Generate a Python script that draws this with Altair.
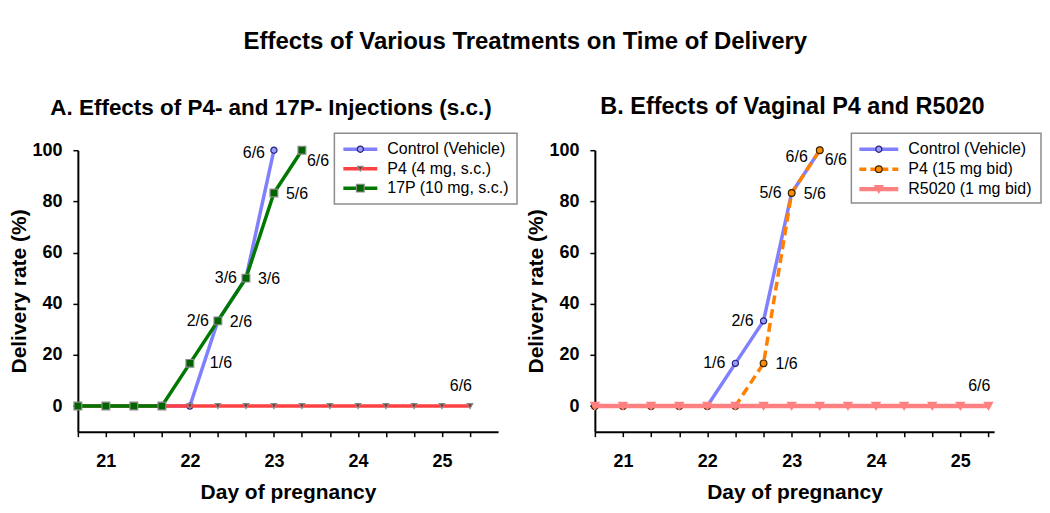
import altair as alt
import pandas as pd

FONT = "Liberation Sans"

# ---------------- data ----------------
days = [20.667, 21.0, 21.333, 21.667, 22.0, 22.333, 22.667, 23.0,
        23.333, 23.667, 24.0, 24.333, 24.667, 25.0, 25.333]

# Panel A: s.c. injections
a_control = [0, 0, 0, 0, 0, 33.3, 50.0, 100.0]
a_p4 = [0, 0, 0, 0, 0, 0, 0, 0, 0, 0, 0, 0, 0, 0, 0]
a_17p = [0, 0, 0, 0, 16.7, 33.3, 50.0, 83.3, 100.0]

# Panel B: vaginal treatments
b_control = [0, 0, 0, 0, 0, 16.7, 33.3, 83.3, 100.0]
b_p4 = [0, 0, 0, 0, 0, 0, 16.7, 83.3, 100.0]
b_r5020 = [0, 0, 0, 0, 0, 0, 0, 0, 0, 0, 0, 0, 0, 0, 0]

# point labels (day, rate, text)
a_labels_left = [(22.333, 33.3, "2/6"), (22.667, 50.0, "3/6")]
a_labels_left_top = [(23.0, 100.0, "6/6")]
a_labels_right = [(22.333, 33.3, "2/6"), (22.667, 50.0, "3/6"), (23.0, 83.3, "5/6")]
a_labels_right_far = [(22.0, 16.7, "1/6")]
a_labels_right_top = [(23.333, 100.0, "6/6")]
a_labels_above = [(25.333, 0, "6/6")]

b_labels_left = [(22.333, 16.7, "1/6"), (22.667, 33.3, "2/6"), (23.0, 83.3, "5/6")]
b_labels_left_top = [(23.333, 100.0, "6/6")]
b_labels_right = [(22.667, 16.7, "1/6"), (23.0, 83.3, "5/6")]
b_labels_right_top = [(23.333, 100.0, "6/6")]
b_labels_above = [(25.333, 0, "6/6")]

a_names = ["Control (Vehicle)", "P4 (4 mg, s.c.)", "17P (10 mg, s.c.)"]
b_names = ["Control (Vehicle)", "P4 (15 mg bid)", "R5020 (1 mg bid)"]

# ---------------- styles ----------------
ctrl_style = dict(color="#8080FF", width=3.5, shape="circle", fill="#9C9CFF", stroke="#20207A", size=38)
a_styles = [
    ctrl_style,
    dict(color="#FF4040", width=3.5, shape="triangle-down", fill="#8B2525", stroke="#8A8A8A", size=30),
    dict(color="#007800", width=3.5, shape="square", fill="#006400", stroke="#8A8A8A", size=60),
]
b_styles = [
    ctrl_style,
    dict(color="#FF8000", width=3.5, dash=[9, 5], shape="circle", fill="#FF8C00", stroke="#3A2400", size=45),
    dict(color="#FF8080", width=4.5, shape="triangle-down", fill="#FF8080", stroke="#FF8080", size=70),
]

PLOT_H = 282
Y_DOM = [-10, 100]


def x_enc(dom):
    return alt.X(
        "day:Q",
        scale=alt.Scale(domain=dom, nice=False, zero=False),
        axis=alt.Axis(
            values=days,
            labelExpr="abs(datum.value - round(datum.value)) < 0.01 ? format(round(datum.value), 'd') : ''",
            title="Day of pregnancy",
        ),
    )


def y_enc():
    return alt.Y(
        "rate:Q",
        scale=alt.Scale(domain=Y_DOM, nice=False, zero=False),
        axis=alt.Axis(values=[0, 20, 40, 60, 80, 100], title="Delivery rate (%)"),
    )


def series_layers(values, style, xdom):
    df = pd.DataFrame({"day": days[: len(values)], "rate": values})
    base = alt.Chart(df).encode(x=x_enc(xdom), y=y_enc())
    line_kw = dict(color=style["color"], strokeWidth=style["width"], strokeCap="butt")
    if "dash" in style:
        line_kw["strokeDash"] = style["dash"]
    line = base.mark_line(**line_kw)
    pts = base.mark_point(shape=style["shape"], filled=True, fill=style["fill"],
                          stroke=style["stroke"], strokeWidth=1.2, size=style["size"], opacity=1)
    return [line, pts]


def label_layer(items, xdom, align, dx, dy):
    df = pd.DataFrame(items, columns=["day", "rate", "txt"])
    return alt.Chart(df).mark_text(align=align, baseline="middle", dx=dx, dy=dy,
                                   font=FONT, fontSize=16, color="black").encode(
        x=x_enc(xdom), y=y_enc(), text="txt:N")


def legend_layers(names, styles, box, line_x, text_x, row0, row_step):
    one = pd.DataFrame({"k": [0]})
    out = [alt.Chart(one).mark_rect(fill="white", stroke="#8C8C8C", strokeWidth=1.5).encode(
        x=alt.value(box[0]), x2=alt.value(box[1]), y=alt.value(box[2]), y2=alt.value(box[3]))]
    for i, (nm, st) in enumerate(zip(names, styles)):
        yy = row0 + i * row_step
        kw = dict(color=st["color"], strokeWidth=st["width"])
        if "dash" in st:
            kw["strokeDash"] = [7, 4]
        out.append(alt.Chart(one).mark_rule(**kw).encode(
            x=alt.value(line_x[0]), x2=alt.value(line_x[1]), y=alt.value(yy)))
        out.append(alt.Chart(one).mark_point(shape=st["shape"], filled=True, fill=st["fill"],
                                             stroke=st["stroke"], strokeWidth=1.2,
                                             size=st["size"], opacity=1).encode(
            x=alt.value((line_x[0] + line_x[1]) / 2), y=alt.value(yy)))
        out.append(alt.Chart(one).mark_text(align="left", baseline="middle", font=FONT,
                                            fontSize=16, color="black", text=nm).encode(
            x=alt.value(text_x), y=alt.value(yy)))
    return out


# ---------------- panel A ----------------
xa = [20.667, 25.667]
layers_a = []
for vals, st in zip([a_control, a_p4, a_17p], a_styles):
    layers_a += series_layers(vals, st, xa)
layers_a += [
    label_layer(a_labels_left, xa, "right", -9, 0),
    label_layer(a_labels_left_top, xa, "right", -9, 3),
    label_layer(a_labels_right, xa, "left", 12, 1),
    label_layer(a_labels_right_far, xa, "left", 20, 0),
    label_layer(a_labels_right_top, xa, "left", 5, 11),
    label_layer(a_labels_above, xa, "right", 2, -20),
]
layers_a += legend_layers(a_names, a_styles, box=(257, 440, -17, 54), line_x=(266, 300),
                          text_x=310, row0=-1, row_step=19.5)
panel_a = alt.layer(*layers_a).properties(
    width=421, height=PLOT_H,
    title=alt.TitleParams("A. Effects of P4- and 17P- Injections (s.c.)", font=FONT, fontSize=22.5,
                          fontWeight="bold", color="black", anchor="middle", dx=-17,
                          baseline="bottom", offset=-10),
)

# ---------------- panel B ----------------
xb = [20.667, 25.4]
layers_b = []
for vals, st in zip([b_control, b_p4, b_r5020], b_styles):
    layers_b += series_layers(vals, st, xb)
layers_b += [
    label_layer(b_labels_left, xb, "right", -10, 0),
    label_layer(b_labels_left_top, xb, "right", -12, 7),
    label_layer(b_labels_right, xb, "left", 12, 1),
    label_layer(b_labels_right_top, xb, "left", 5, 10),
    label_layer(b_labels_above, xb, "right", 2, -20),
]
layers_b += legend_layers(b_names, b_styles, box=(257, 447, -17, 53), line_x=(265, 304),
                          text_x=314, row0=-1, row_step=20)
panel_b = alt.layer(*layers_b).properties(
    width=400, height=PLOT_H,
    title=alt.TitleParams("B. Effects of Vaginal P4 and R5020", font=FONT, fontSize=23.5,
                          fontWeight="bold", color="black", anchor="middle", dx=-2,
                          baseline="bottom", offset=-10),
)

chart = alt.hconcat(panel_a, panel_b, spacing=7).properties(
    title=alt.TitleParams("Effects of Various Treatments on Time of Delivery", font=FONT,
                          fontSize=24, fontWeight="bold", color="black", anchor="middle",
                          baseline="bottom", offset=17),
    padding={"left": 0, "top": 21, "right": 0, "bottom": 0},
).configure_view(stroke=None).configure_axis(
    grid=False, domainColor="black", domainWidth=2, tickColor="black", tickWidth=1.5,
    tickSize=5, labelFont=FONT, labelFontSize=18, labelFontWeight="bold", labelColor="black",
    titleFont=FONT, titleFontSize=21, titleFontWeight="bold", titleColor="black",
).configure_axisX(labelPadding=16, titlePadding=11, labelFlush=False).configure_axisY(
    labelPadding=11, titlePadding=2)

chart.save("out.html", embed_options={"renderer": "svg", "actions": False})
